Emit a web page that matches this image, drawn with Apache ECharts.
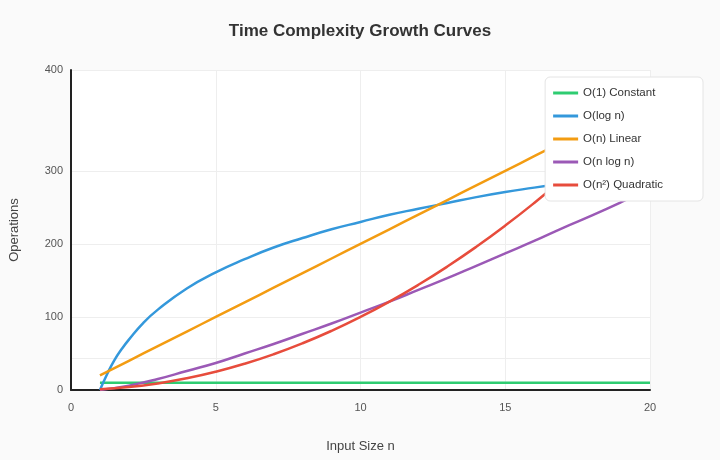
<!DOCTYPE html>
<html>
<head>
<meta charset="utf-8">
<script src="https://cdn.jsdelivr.net/npm/echarts@6/dist/echarts.min.js"></script>
<style>html,body{margin:0;background:#fafafa;}</style>
</head>
<body>
<div id="main" style="width:720px;height:460px;"></div>
<script type="text/javascript">
var sizes = [1,2,3,4,5,6,7,8,9,10,11,12,13,14,15,16,17,18,19,20];
var constant = [10,10,10,10,10,10,10,10,10,10,10,10,10,10,10,10,10,10,10,10];
// log curve is steep near n=1, read at finer steps there
var logSizes = [1,1.25,1.5,1.75,2,2.5,3,4,5,6,7,8,9,10,11,12,13,14,15,16,17,18,19,20];
var logN = [0,22,41,56,69,92,110,139,161,179,195,208,220,230,240,248,256,264,271,277,283,289,294,300];
var linear = [20,40,60,80,100,120,140,160,180,200,220,240,260,280,300,320,340,360,380,400];
var nLogN = [0,6,15,26,37,50,63,77,91,106,121,137,153,170,187,204,222,239,257,276];
var quadratic = [1,4,9,16,25,36,49,64,81,100,121,144,169,196,225,256,289,324,361,400];
var yTicks = [0,44,100,200,300,438];

var names = ['O(1) Constant','O(log n)','O(n) Linear','O(n log n)','O(n²) Quadratic'];
var colors = ['#2ecc71','#3498db','#f39c12','#9b59b6','#e74c3c'];
var data = [constant, logN, linear, nLogN, quadratic];
var xs = [sizes, logSizes, sizes, sizes, sizes];

function pairs(x, vals){
    return x.map(function(n, i){ return [n, vals[i]]; });
}

var myChart = echarts.init(document.getElementById('main'));
var option = {
    backgroundColor: '#fafafa',
    color: colors,
    title: {
        text: 'Time Complexity Growth Curves',
        left: 'center', top: 18,
        textStyle: {fontSize: 17, fontWeight: 'bold', color: '#333', fontFamily: 'Liberation Sans'}
    },
    legend: {
        orient: 'vertical', right: 17, top: 77,
        backgroundColor: '#fff', borderColor: '#e4e4e4', borderWidth: 1, borderRadius: 5,
        padding: [10, 40, 10, 8], itemGap: 11,
        itemWidth: 25, itemHeight: 3, icon: 'rect',
        textStyle: {fontSize: 11.5, color: '#333', fontFamily: 'Liberation Sans'},
        data: names
    },
    grid: {left: 70, right: 70, top: 70, bottom: 70, show: true, backgroundColor: '#fff', borderWidth: 0},
    xAxis: {
        type: 'value', min: 0, max: 20, interval: 5,
        name: 'Input Size n', nameLocation: 'middle', nameGap: 50,
        nameTextStyle: {fontSize: 13, color: '#444'},
        axisLine: {lineStyle: {color: '#222', width: 2}},
        axisTick: {show: false},
        axisLabel: {color: '#555', fontSize: 11, margin: 12},
        splitLine: {lineStyle: {color: '#eee'}}
    },
    yAxis: {
        type: 'value', min: 0, max: 438,
        name: 'Operations', nameLocation: 'middle', nameGap: 50,
        nameTextStyle: {fontSize: 13, color: '#444'},
        axisLine: {show: true, lineStyle: {color: '#222', width: 2}},
        axisTick: {show: false, customValues: yTicks},
        axisLabel: {
            color: '#555', fontSize: 11, customValues: yTicks,
            formatter: function(v){ if (v === 438) return '400'; if (v === 44) return ''; return v; }
        },
        splitLine: {lineStyle: {color: '#eee'}}
    },
    series: names.map(function(nm, i){
        return {
            name: nm, type: 'line', smooth: true, showSymbol: false,
            lineStyle: {width: 2.5}, data: pairs(xs[i], data[i])
        };
    })
};
myChart.setOption(option);
</script>
</body>
</html>
